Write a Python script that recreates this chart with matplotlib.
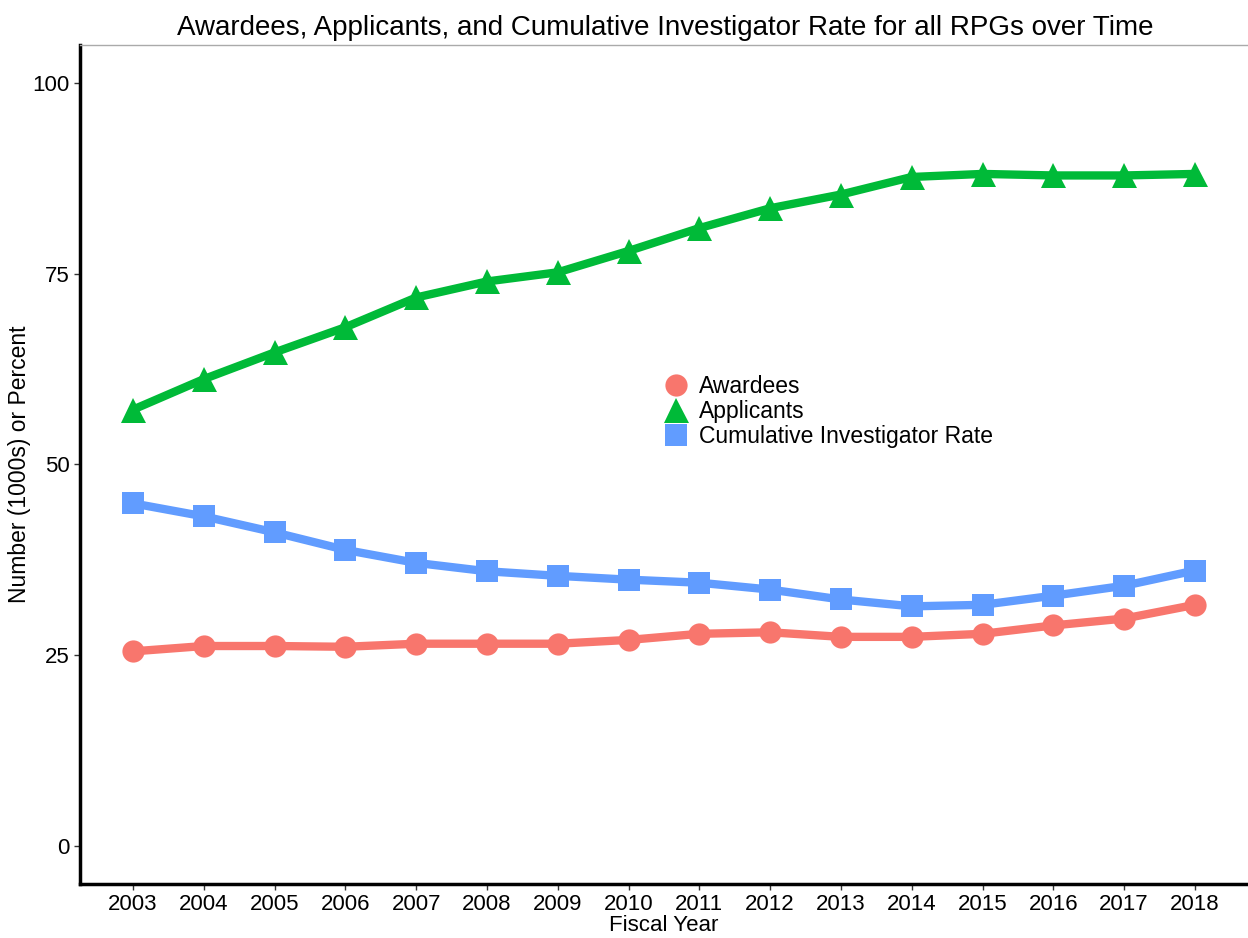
import matplotlib
matplotlib.use('Agg')
from matplotlib import pyplot as plt
from matplotlib.lines import Line2D

years = [2003, 2004, 2005, 2006, 2007, 2008, 2009, 2010,
         2011, 2012, 2013, 2014, 2015, 2016, 2017, 2018]
awardees = [25.5, 26.2, 26.2, 26.1, 26.5, 26.5, 26.5, 27.0,
            27.8, 28.0, 27.4, 27.4, 27.8, 28.9, 29.8, 31.6]
applicants = [57.2, 61.2, 64.7, 68.0, 71.9, 74.0, 75.2, 78.0,
              81.0, 83.6, 85.4, 87.7, 88.1, 87.9, 87.9, 88.1]
inv_rate = [44.9, 43.2, 41.1, 38.8, 37.1, 36.0, 35.4, 34.9,
            34.5, 33.6, 32.3, 31.4, 31.6, 32.8, 34.1, 36.1]
y_ticks = [0, 25, 50, 75, 100]

series = [
    ('Awardees', awardees, '#F8766D', 'o', 16),
    ('Applicants', applicants, '#00BA38', '^', 18),
    ('Cumulative Investigator Rate', inv_rate, '#619CFF', 's', 16),
]

plt.rcParams['font.family'] = ['Liberation Sans', 'DejaVu Sans']

fig = plt.figure(figsize=(12.48, 9.38), dpi=100)
ax = fig.add_axes([0.0641, 0.0576, 0.9359, 0.8944])

handles = []
for label, vals, color, marker, ms in series:
    ax.plot(years, vals, color=color, linewidth=6, marker=marker,
            markersize=ms, markeredgewidth=0, solid_capstyle='round')
    handles.append(Line2D([], [], linestyle='none', marker=marker,
                          color=color, markersize=ms, markeredgewidth=0))

ax.set_xlim(2002.25, 2018.75)
ax.set_ylim(-5, 105)
ax.set_xticks(years)
ax.set_yticks(y_ticks)
ax.tick_params(axis='both', labelsize=16, length=4, width=1, color='#333333',
               labelcolor='black')

ax.spines['right'].set_visible(False)
ax.spines['top'].set_color('#aaaaaa')
ax.spines['top'].set_linewidth(1)
ax.spines['left'].set_linewidth(2.5)
ax.spines['bottom'].set_linewidth(2.5)

ax.set_xlabel('Fiscal Year', fontsize=16, labelpad=0)
ax.set_ylabel('Number (1000s) or Percent', fontsize=16.5, labelpad=1)
fig.suptitle('Awardees, Applicants, and Cumulative Investigator Rate for all RPGs over Time',
             fontsize=20, x=0.533, y=0.984)

ax.legend(handles, [s[0] for s in series], loc='upper left',
          bbox_to_anchor=(0.525, 0.61), bbox_transform=fig.transFigure,
          frameon=False, fontsize=16.5, handlelength=1.0, handletextpad=0.5,
          labelspacing=0.08, borderaxespad=0)

plt.savefig('out.png', dpi=100)
